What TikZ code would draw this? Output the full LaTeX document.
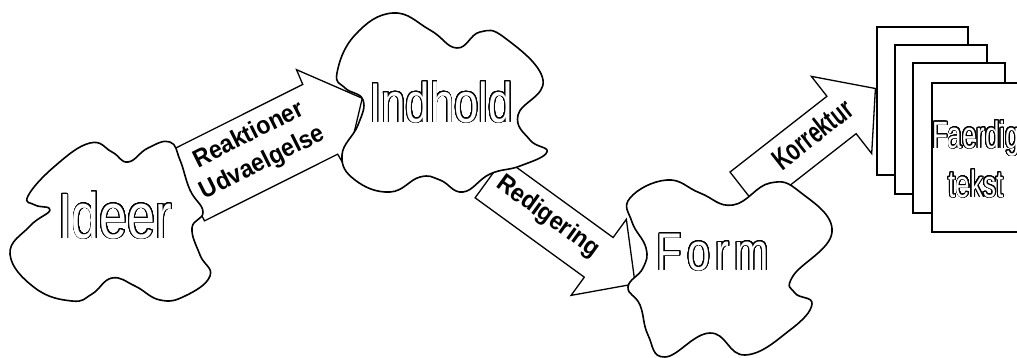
\documentclass[tikz,border=0pt]{standalone}
\usepackage{fontspec}
\usepackage{contour}
\setmainfont{Liberation Sans}
\newfontfamily\hollowfont[FakeStretch=0.78]{Liberation Sans}
\newfontfamily\docfont[FakeStretch=0.68]{Liberation Sans}
\newfontfamily\labelfont[FakeStretch=0.93]{Liberation Sans}
\newfontfamily\korfont[FakeStretch=0.68]{Liberation Sans}
\contourlength{0.9pt}
\contournumber{32}
\tikzset{
  cloudshape/.style={draw=black, fill=white, line width=1.6pt, line join=round},
  blockarrow/.style={draw=black, fill=white, line width=1.3pt, line join=miter},
  pagebox/.style={draw=black, fill=white, line width=2pt},
  hollow/.style={text=white, inner sep=0pt, anchor=base},
  arrowlabel/.style={font=\labelfont\bfseries\fontsize{25}{31}\selectfont, align=center, inner sep=0pt}
}
\begin{document}
\begin{tikzpicture}[x=1pt,y=-1pt]
\useasboundingbox (0,0) rectangle (1017,357);
\clip (0,0) rectangle (1017,357);

% block arrows
\begin{scope}[shift={(187,186)}, rotate=26.6]
  \draw[blockarrow] (0,-39) -- (149,-39) -- (150,-55) -- (196,0) -- (150,55) -- (149,39) -- (0,39) -- cycle;
  \coordinate (reaktpos) at (78,-2);
\end{scope}
\begin{scope}[shift={(489.5,178)}, rotate=-36]
  \draw[blockarrow] (0,-24.5) -- (135,-24.5) -- (135,-47) -- (180,0) -- (135,47) -- (135,24.5) -- (0,24.5) -- cycle;
  \coordinate (redigpos) at (70,-3);
\end{scope}
\begin{scope}[shift={(744.6,190.7)}, rotate=38]
  \draw[blockarrow] (0,-23.7) -- (123,-23.7) -- (123,-49) -- (166,0) -- (123,49) -- (123,23.7) -- (0,23.7) -- cycle;
  \coordinate (korrpos) at (88,-3);
\end{scope}

% clouds
\draw[cloudshape] plot[smooth cycle, tension=0.75] coordinates {
  (28,196) (55,166) (90,143) (112,152) (128,162) (148,148) (170,142) (180,160)
  (190,190) (203,212) (192,228) (200,255) (210,276) (185,296) (160,300) (135,286)
  (112,278) (92,294) (72,301) (35,288) (10,254) (30,226) (50,210) (35,205)};
\draw[cloudshape] plot[smooth cycle, tension=0.75] coordinates {
  (337,73) (355,35) (393,13) (430,30) (457,48) (480,32) (505,38) (543,80)
  (518,115) (530,140) (547,152) (520,166) (490,174) (463,192) (440,180) (420,177)
  (390,192) (355,180) (342,155) (358,125) (363,100) (345,88)};
\draw[cloudshape] plot[smooth cycle, tension=0.75] coordinates {
  (630,198) (667,180) (700,193) (733,205) (770,183) (800,192) (832,232) (793,276)
  (795,293) (812,304) (790,330) (745,355) (710,333) (665,357) (648,335) (640,305)
  (628,287) (643,268) (646,248) (632,222)};

% pages
\draw[pagebox] (877,27) rectangle (968,175);
\draw[pagebox] (895,45) rectangle (987,194);
\draw[pagebox] (913,63) rectangle (1005,213);
\draw[pagebox] (932,83) rectangle (1024,232);

% hollow texts
\node[hollow, font=\hollowfont\fontsize{64}{64}\selectfont] (ideer) at (115,238) {\contour{black}{Ideer}};
\node[hollow, font=\hollowfont\fontsize{56}{56}\selectfont] (indhold) at (441,122) {\contour{black}{Indhold}};
\node[hollow, font=\hollowfont\fontsize{53}{53}\selectfont\addfontfeature{LetterSpace=10}] (form) at (713,270) {\contour{black}{Form}};
\node[hollow, font=\docfont\fontsize{38}{38}\selectfont] (faerdig) at (976,148) {\contour{black}{Faerdig}};
\node[hollow, font=\docfont\fontsize{38}{38}\selectfont] (tekst) at (976,197) {\contour{black}{tekst}};

% arrow labels
\node[arrowlabel, rotate=26.6] (reakt) at (reaktpos) {Reaktioner\\Udvaelgelse};
\node[arrowlabel, rotate=-36] (redig) at (redigpos) {Redigering};
\node[arrowlabel, font=\korfont\bfseries\fontsize{30}{32}\selectfont, rotate=38] (korr) at (korrpos) {Korrektur};
\end{tikzpicture}
\end{document}
